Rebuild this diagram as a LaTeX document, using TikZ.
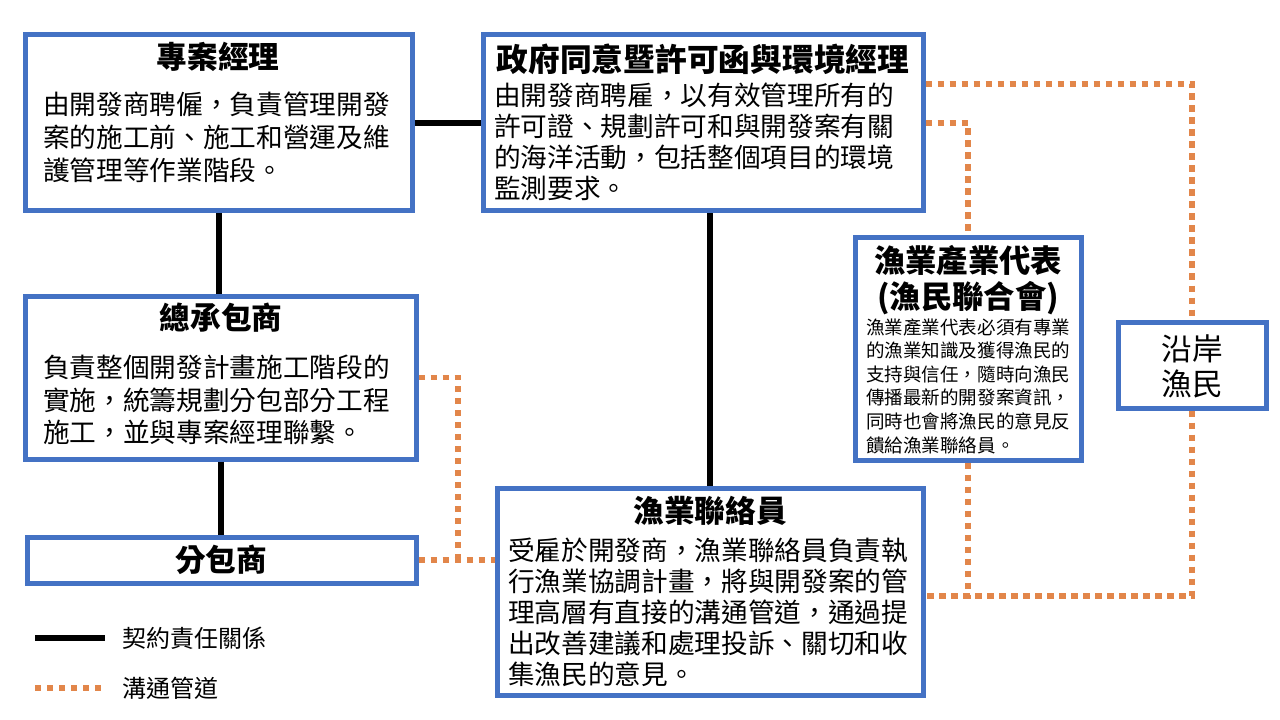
\documentclass[tikz,border=0pt]{standalone}
\usepackage{fontspec}
\setmainfont{Noto Sans CJK TC}
\usetikzlibrary{positioning,fit}
\definecolor{boxblue}{RGB}{68,114,196}
\definecolor{talkorange}{RGB}{226,134,74}
\tikzstyle{box} = [draw=boxblue, line width=3.75pt, fill=white, inner sep=0pt]
\tikzstyle{contract} = [draw=black, line width=4.5pt]
\tikzstyle{talk} = [draw=talkorange, line width=4.2pt, dash pattern=on 4.8pt off 4.2pt]
\tikzstyle{title} = [font=\fontsize{23}{27}\selectfont\bfseries, align=center, inner sep=0pt]
\tikzstyle{body} = [font=\fontsize{20}{24.5}\selectfont, align=left, anchor=north west, inner sep=0pt]
\tikzstyle{legend} = [font=\fontsize{18}{22}\selectfont, anchor=west, inner sep=0pt]

\begin{document}
\begin{tikzpicture}[x=0.75pt, y=-0.75pt]
      \useasboundingbox[fill=white] (0,0) rectangle (1280,720);
      % boxes
      \node[box, fit={(25,35) (412,211)}] (pm) {};
      \node[box, fit={(483,35) (923,211)}] (gov) {};
      \node[box, fit={(855,238) (1081,460)}] (rep) {};
      \node[box, fit={(1118,322) (1266,408)}] (fisher) {};
      \node[box, fit={(25,296) (416,459)}] (gc) {};
      \node[box, fit={(27,537) (416,583)}] (sub) {};
      \node[box, fit={(497,488) (923,695)}] (liaison) {};
      % texts
      \node[title] (pmT) at (218,57) {專案經理};
      \node[body, font=\fontsize{20}{24.75}\selectfont] (pmB) at (43,92) {由開發商聘僱，負責管理開發\\案的施工前、施工和營運及維\\護管理等作業階段。};
      \node[title, font=\fontsize{23.8}{27}\selectfont\bfseries] (govT) at (703,59) {政府同意暨許可函與環境經理};
      \node[body, font=\fontsize{20}{23.25}\selectfont] (govB) at (494,83) {由開發商聘雇，以有效管理所有的\\許可證、規劃許可和與開發案有關\\的海洋活動，包括整個項目的環境\\監測要求。};
      \node[title, font=\fontsize{23.5}{27}\selectfont\bfseries] (repT) at (968,280) {漁業產業代表\\(漁民聯合會)};
      \node[body, font=\fontsize{13.9}{17.7}\selectfont] (repB) at (866,318) {漁業產業代表必須有專業\\的漁業知識及獲得漁民的\\支持與信任，隨時向漁民\\傳播最新的開發案資訊，\\同時也會將漁民的意見反\\饋給漁業聯絡員。};
      \node[font=\fontsize{23}{26.25}\selectfont, align=center, inner sep=0pt] (fisherT) at (1192,366) {沿岸\\漁民};
      \node[title] (gcT) at (221,318) {總承包商};
      \node[body, font=\fontsize{20}{24.4}\selectfont] (gcB) at (43,355) {負責整個開發計畫施工階段的\\實施，統籌規劃分包部分工程\\施工，並與專案經理聯繫。};
      \node[title] (subT) at (221,560) {分包商};
      \node[title] (liaisonT) at (710,511) {漁業聯絡員};
      \node[body, font=\fontsize{20}{23.25}\selectfont] (liaisonB) at (508,538) {受雇於開發商，漁業聯絡員負責執\\行漁業協調計畫，將與開發案的管\\理高層有直接的溝通管道，通過提\\出改善建議和處理投訴、關切和收\\集漁民的意見。};
      % contract lines
      \draw[contract] (pm) -- (gov);
      \draw[contract] (pm.south) -- (pm.south |- gc.north);
      \draw[contract] (gc.south) -- (gc.south |- sub.north);
      \draw[contract] (liaison.north |- gov.south) -- (liaison.north);
      % communication lines
      \coordinate (gcJoin) at (458,560);
      \draw[talk] (gc.east) -| (gcJoin);
      \draw[talk] (sub.east) -- (sub.east -| liaison.west);
      \draw[talk] ([yshift=29.25pt]gov.east) -| (fisher.north);
      \draw[talk] (gov.east) -| (rep.north);
      \draw[talk] (fisher.south) |- ([yshift=-3.4pt]liaison.east);
      \draw[talk] (rep.south) |- ([yshift=-3.4pt]liaison.east);
      % legend
      \coordinate (key1a) at (35,638);
      \coordinate (key1b) at (105,638);
      \coordinate (key2a) at (35,688);
      \coordinate (key2b) at (102,688);
      \draw[contract] (key1a) -- (key1b);
      \draw[talk] (key2a) -- (key2b);
      \node[legend] (key1T) at (122,638) {契約責任關係};
      \node[legend] (key2T) at (122,688) {溝通管道};
\end{tikzpicture}
\end{document}
